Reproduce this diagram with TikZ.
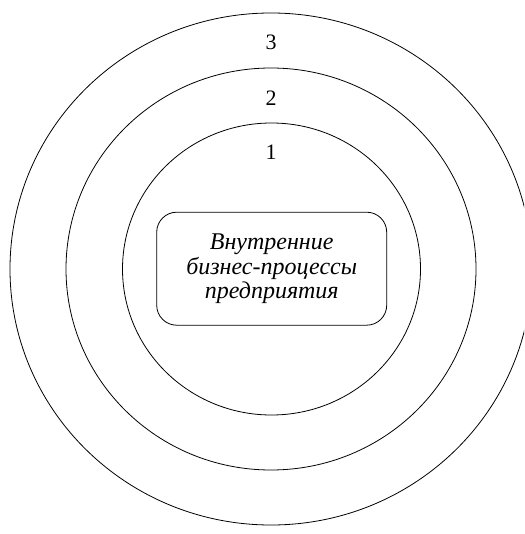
\documentclass[tikz,border=0pt]{standalone}
\usepackage{fontspec}
\setmainfont{Liberation Serif}
\begin{document}
\begin{tikzpicture}[x=1pt, y=-1pt, line width=0.8pt]
  \tikzset{ringno/.style={anchor=base, font=\fontsize{22}{24}\selectfont}}
  \useasboundingbox (0,0) rectangle (524,534);
  \clip (0,0) rectangle (524,534);
  \draw (271,269) ellipse [x radius=261, y radius=256];
  \draw (271,269) ellipse [x radius=205, y radius=201];
  \draw (271.5,269) ellipse [x radius=149, y radius=146];
  \node[draw, rounded corners=20, minimum width=230, minimum height=113, align=center,
        font=\fontsize{24}{24.5}\selectfont\itshape] (core) at (271.7,268.7)
        {Внутренние\\бизнес-процессы\\предприятия};
  \node[ringno] (ring3) at (271,50) {3};
  \node[ringno] (ring2) at (271,105.7) {2};
  \node[ringno] (ring1) at (271,159.3) {1};
\end{tikzpicture}
\end{document}
